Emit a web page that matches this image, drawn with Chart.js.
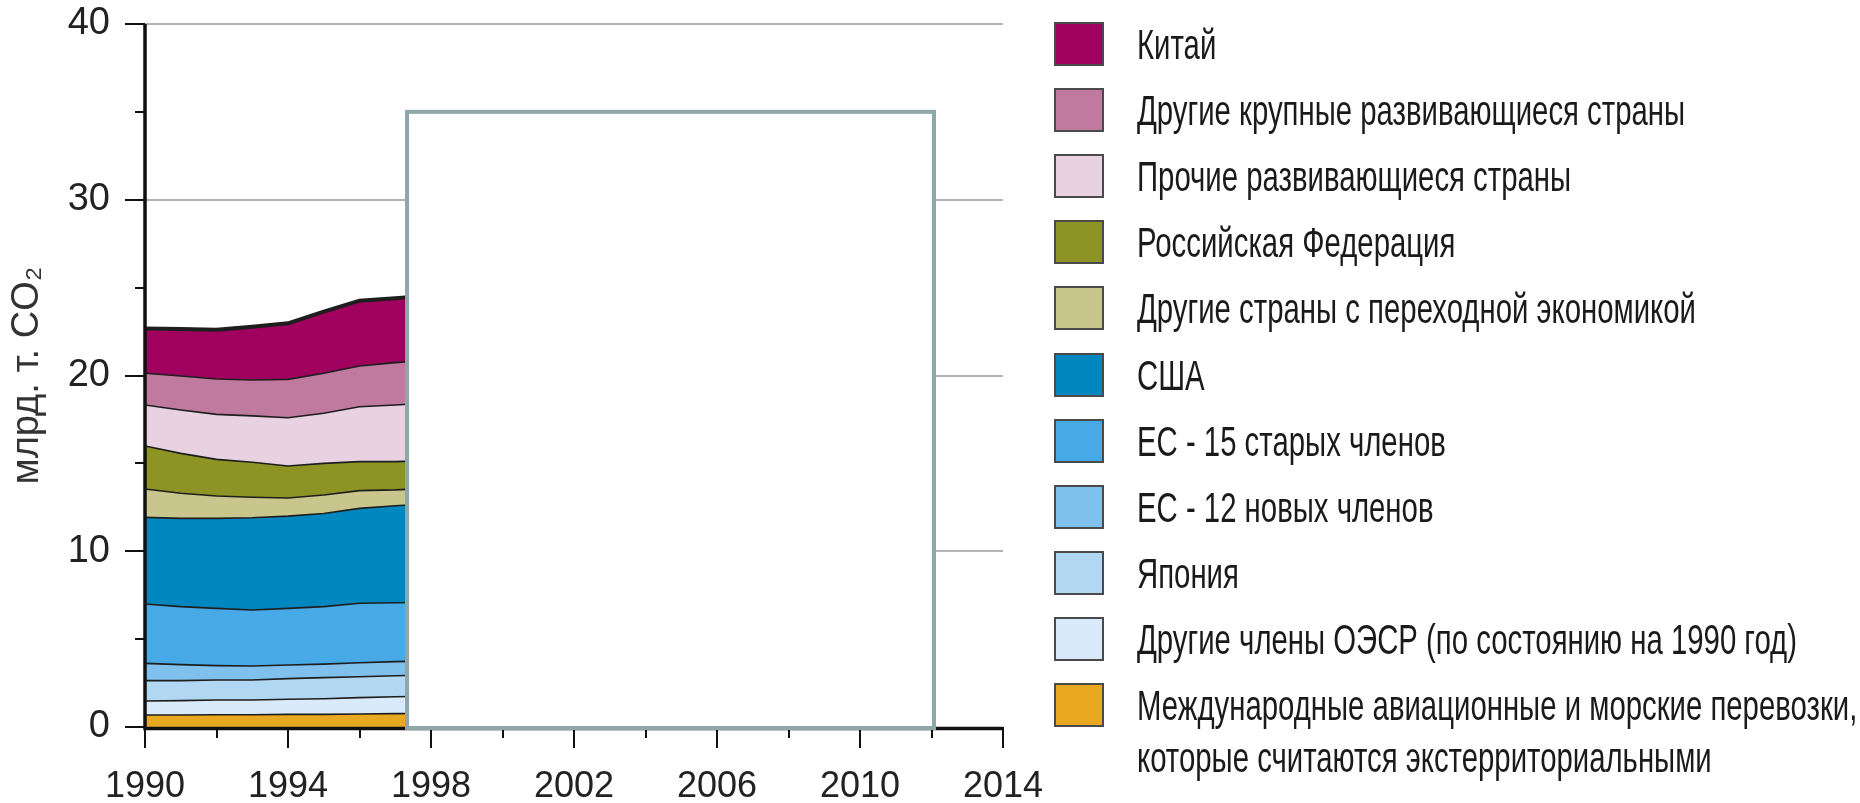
<!DOCTYPE html>
<html>
<head>
<meta charset="utf-8">
<script src="https://cdn.jsdelivr.net/npm/chart.js@4.4.1/dist/chart.umd.min.js"></script>
<style>
  html, body { margin: 0; padding: 0; background: #ffffff; }
  #wrap { position: relative; width: 1860px; height: 803px; overflow: hidden; background: #fff; }
  #chart { position: absolute; left: 0; top: 0; }
  #legend { position: absolute; left: 0; top: 0; width: 1860px; height: 803px; pointer-events: none; }
  .sw { position: absolute; left: 1054px; width: 50px; height: 44px; box-sizing: border-box; border: 2px solid #4a4a4a; }
  .lbl { position: absolute; left: 1137px; font-family: "Liberation Sans", Arial, sans-serif; font-size: 42px; line-height: 50px; color: #1a1a1a; white-space: nowrap; transform-origin: 0 0; }
</style>
</head>
<body>
<div id="wrap">
  <canvas id="chart" width="1860" height="803"></canvas>
  <div id="legend"></div>
</div>
<script>
// ---- Data (billion tonnes CO2), stacked bottom -> top ----
const years = [1990, 1991, 1992, 1993, 1994, 1995, 1996, 1997, 1998];

const intlTransport     = [0.68, 0.68, 0.70, 0.70, 0.72, 0.72, 0.74, 0.76, 0.77];
const otherOECD         = [0.80, 0.82, 0.84, 0.84, 0.86, 0.89, 0.93, 0.96, 0.98];
const japan             = [1.16, 1.14, 1.13, 1.13, 1.17, 1.20, 1.19, 1.20, 1.21];
const eu12              = [0.98, 0.91, 0.82, 0.80, 0.78, 0.77, 0.80, 0.80, 0.80];
const eu15              = [3.38, 3.30, 3.26, 3.19, 3.22, 3.27, 3.38, 3.35, 3.34];
const usa               = [4.93, 5.02, 5.12, 5.25, 5.25, 5.30, 5.40, 5.52, 5.60];
const otherTransition   = [1.61, 1.43, 1.27, 1.16, 1.03, 1.05, 1.01, 0.90, 0.88];
const russia            = [2.45, 2.27, 2.09, 1.99, 1.82, 1.80, 1.65, 1.61, 1.58];
const otherDeveloping   = [2.33, 2.47, 2.56, 2.64, 2.75, 2.85, 3.12, 3.22, 3.28];
const otherBigDeveloping= [1.81, 1.93, 2.01, 2.04, 2.18, 2.28, 2.32, 2.41, 2.45];
const china             = [2.55, 2.67, 2.80, 3.03, 3.19, 3.50, 3.72, 3.66, 3.66];

const seriesNames = [
  "Международные авиационные и морские перевозки,\nкоторые считаются экстерриториальными",
  "Другие члены ОЭСР (по состоянию на 1990 год)",
  "Япония",
  "ЕС - 12 новых членов",
  "ЕС - 15 старых членов",
  "США",
  "Другие страны с переходной экономикой",
  "Российская Федерация",
  "Прочие развивающиеся страны",
  "Другие крупные развивающиеся страны",
  "Китай"
];
const seriesValues = [intlTransport, otherOECD, japan, eu12, eu15, usa, otherTransition, russia, otherDeveloping, otherBigDeveloping, china];
const seriesColors = ["#e8a920", "#d9ebfa", "#b2d7f3", "#80c0ec", "#47a9e5", "#0087c0", "#c8c68c", "#8d9423", "#e8d1e1", "#c07aa0", "#a0005e"];

const xTicks = [1990, 1994, 1998, 2002, 2006, 2010, 2014];
const yTicks = [0, 10, 20, 30, 40];
const yTitle = "млрд. т. CO₂";

// white panel that hides the later years in the original figure
const maskPanel = { from: 1997.33, to: 2012.07, top: 35 };

// ---- Chart ----
const datasets = seriesValues.map((vals, i) => ({
  label: seriesNames[i],
  data: years.map((y, k) => ({ x: y, y: vals[k] })),
  backgroundColor: seriesColors[i],
  borderColor: "#1e1e1e",
  borderWidth: i === seriesValues.length - 1 ? 4 : 1.6,
  fill: i === 0 ? "origin" : "-1",
  pointRadius: 0,
  tension: 0
}));

const axisPlugin = {
  id: "axisDecor",
  afterDatasetsDraw(chart) {
    const { ctx, chartArea, scales } = chart;
    const xs = scales.x, ys = scales.y;
    ctx.save();
    ctx.strokeStyle = "#111";
    ctx.lineCap = "butt";
    ctx.lineWidth = 2;
    for (let v = ys.min; v <= ys.max; v += 5) {
      const py = Math.round(ys.getPixelForValue(v));
      const len = (v % 10 === 0) ? 20 : 10;
      ctx.beginPath();
      ctx.moveTo(chartArea.left - len, py);
      ctx.lineTo(chartArea.left, py);
      ctx.stroke();
    }
    for (let v = xs.min; v <= xs.max; v += 2) {
      const px = Math.round(xs.getPixelForValue(v));
      const len = ((v - xs.min) % 4 === 0) ? 21 : 11;
      ctx.beginPath();
      ctx.moveTo(px, chartArea.bottom);
      ctx.lineTo(px, chartArea.bottom + len);
      ctx.stroke();
    }
    ctx.lineWidth = 3.5;
    ctx.beginPath();
    ctx.moveTo(chartArea.left, chartArea.top);
    ctx.lineTo(chartArea.left, chartArea.bottom + 1.5);
    ctx.lineTo(chartArea.right, chartArea.bottom + 1.5);
    ctx.stroke();
    const x0 = xs.getPixelForValue(maskPanel.from);
    const x1 = xs.getPixelForValue(maskPanel.to);
    const y0 = ys.getPixelForValue(maskPanel.top);
    const y1 = ys.getPixelForValue(0) + 1;
    ctx.fillStyle = "#ffffff";
    ctx.fillRect(x0, y0, x1 - x0, y1 - y0);
    ctx.strokeStyle = "#8ea8a9";
    ctx.lineWidth = 4;
    ctx.strokeRect(x0, y0, x1 - x0, y1 - y0);
    ctx.restore();
  }
};

new Chart(document.getElementById("chart"), {
  type: "line",
  data: { datasets },
  options: {
    responsive: false,
    animation: false,
    events: [],
    layout: { padding: { left: 0, top: 24, right: 857, bottom: 0 } },
    plugins: { legend: { display: false }, tooltip: { enabled: false } },
    scales: {
      x: {
        type: "linear",
        min: 1990,
        max: 2014,
        afterFit(s) { s.height = 76; s.paddingLeft = 0; s.paddingRight = 0; },
        afterBuildTicks(s) { s.ticks = xTicks.map(v => ({ value: v })); },
        ticks: {
          font: { family: "Liberation Sans, Arial, sans-serif", size: 36 },
          color: "#222",
          padding: 38,
          maxRotation: 0,
          autoSkip: false,
          callback: (v) => String(v)
        },
        grid: { display: false, drawTicks: false },
        border: { display: false }
      },
      y: {
        stacked: true,
        min: 0,
        max: 40,
        afterFit(s) { s.width = 145; s.paddingTop = 0; s.paddingBottom = 0; },
        afterBuildTicks(s) { s.ticks = yTicks.map(v => ({ value: v })); },
        ticks: {
          font: { family: "Liberation Sans, Arial, sans-serif", size: 38 },
          color: "#222",
          padding: 35,
          callback: (v) => String(v)
        },
        grid: {
          color: (c) => (c.tick && c.tick.value === 0) ? "rgba(0,0,0,0)" : "#b4b4b4",
          lineWidth: 2,
          drawTicks: false
        },
        border: { display: false },
        title: {
          display: true,
          text: yTitle,
          font: { family: "Liberation Sans, Arial, sans-serif", size: 38 },
          color: "#333",
          padding: { top: 5, bottom: 0 }
        }
      }
    }
  },
  plugins: [axisPlugin]
});

// ---- Legend (HTML, built from the series arrays, top -> bottom) ----
const legend = document.getElementById("legend");
const mctx = document.createElement("canvas").getContext("2d");
mctx.font = '42px "Liberation Sans"';
// condensed look of the original legend lettering
const refW = mctx.measureText("Другие члены ОЭСР (по состоянию на 1990 год)").width;
const squeeze = 660 / refW;
const order = seriesNames.map((_, i) => i).reverse();
order.forEach((idx, row) => {
  const top = 22 + row * 66.1;
  const sw = document.createElement("div");
  sw.className = "sw";
  sw.style.top = top + "px";
  sw.style.background = seriesColors[idx];
  legend.appendChild(sw);
  const lines = seriesNames[idx].split("\n");
  lines.forEach((t, li) => {
    const lb = document.createElement("div");
    lb.className = "lbl";
    lb.style.top = (top - 2 + li * 52) + "px";
    lb.style.transform = "scaleX(" + squeeze.toFixed(4) + ")";
    lb.textContent = t;
    legend.appendChild(lb);
  });
});
</script>
</body>
</html>
